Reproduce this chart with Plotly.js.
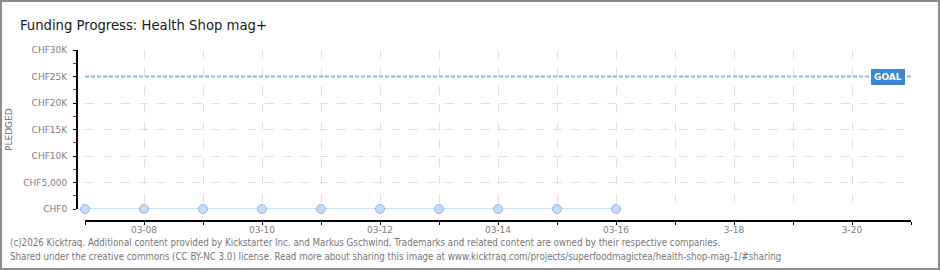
<!DOCTYPE html>
<html>
<head>
<meta charset="utf-8">
<script src="https://cdn.plot.ly/plotly-3.0.1.min.js"></script>
<style>
html,body{margin:0;padding:0;background:#fff;}
#wrap{position:relative;width:940px;height:270px;}
#chart{position:absolute;left:0;top:0;width:940px;height:270px;}
#frame{position:absolute;left:0;top:0;width:936px;height:266px;border:2px solid #8c8c8c;pointer-events:none;}
</style>
</head>
<body>
<div id="wrap"><div id="chart"></div><div id="frame"></div></div>
<script>
// ---- data ----
const dates = ["2026-03-07","2026-03-08","2026-03-09","2026-03-10","2026-03-11","2026-03-12","2026-03-13","2026-03-14","2026-03-15","2026-03-16"];
const pledged = [0,0,0,0,0,0,0,0,0,0];
const goalValue = 25000;
const goalDates = ["2026-03-07","2026-03-21"];
const tickDates = ["2026-03-07","2026-03-08","2026-03-09","2026-03-10","2026-03-11","2026-03-12","2026-03-13","2026-03-14","2026-03-15","2026-03-16","2026-03-17","2026-03-18","2026-03-19","2026-03-20","2026-03-21"];
const tickLabels = ["","03-08","","03-10","","03-12","","03-14","","03-16","","3-18","","3-20",""];
const yTickVals = [0,5000,10000,15000,20000,25000,30000];
const yTickLabels = ["CHF0","CHF5,000","CHF10K","CHF15K","CHF20K","CHF25K","CHF30K"];
const titleText = "Funding Progress: Health Shop mag+";
const footer1 = "(c)2026 Kicktraq. Additional content provided by Kickstarter Inc. and Markus Gschwind. Trademarks and related content are owned by their respective companies.";
const footer2 = "Shared under the creative commons (CC BY-NC 3.0) license. Read more about sharing this image at www.kicktraq.com/projects/superfoodmagictea/health-shop-mag-1/#sharing";

const W = 940, H = 270;
const mL = 76, mR = 29, mT = 50, mB = 50;
const pw = W - mL - mR, ph = H - mT - mB;
const xDomStart = 9 / pw;
const yDomStart = 11 / ph;
const tickFont = {family: "DejaVu Sans, sans-serif", size: 9, color: "#808080"};
const narrow = "Liberation Sans Narrow, DejaVu Sans Condensed, Liberation Sans, Arial, sans-serif";

const traces = [
  {
    x: goalDates, y: [goalValue, goalValue], mode: "lines", type: "scatter",
    line: {color: "#94b5de", width: 2, dash: "4px,2px"}, hoverinfo: "skip", showlegend: false
  },
  {
    x: dates, y: pledged, mode: "lines+markers", type: "scatter",
    line: {color: "#b9d7f3", width: 1.5},
    marker: {size: 9, color: "#c4dcf6", line: {color: "#98b6dc", width: 1}},
    showlegend: false, cliponaxis: false
  }
];

const xr = ["2026-03-07", "2026-03-21"];
const layout = {
  width: W, height: H,
  margin: {l: mL, r: mR, t: mT, b: mB, pad: 0},
  paper_bgcolor: "#fff", plot_bgcolor: "#fff",
  showlegend: false,
  title: {text: titleText, x: 20 / W, xanchor: "left", y: 1 - 25 / H, yanchor: "middle",
          font: {family: narrow, size: 14.7, color: "#1a1a1a"}},
  xaxis: {
    type: "date", range: xr, domain: [xDomStart, 1],
    anchor: "free", position: 0,
    tickmode: "array", tickvals: tickDates, ticktext: tickLabels,
    ticks: "outside", ticklen: 3, tickcolor: "#000", tickwidth: 1,
    showline: true, linecolor: "#000", linewidth: 1.5,
    showgrid: true, gridcolor: "#e0e0e0", griddash: "dash", gridwidth: 1,
    zeroline: false, tickfont: tickFont, ticklabelstandoff: -2, fixedrange: true
  },
  xaxis2: {
    type: "date", range: xr, domain: [xDomStart, 1], overlaying: "x",
    anchor: "free", position: 0,
    tickmode: "array", tickvals: tickDates, ticktext: tickDates.map(() => ""),
    ticks: "inside", ticklen: 3, tickcolor: "#000", tickwidth: 1,
    showline: false, showgrid: false, zeroline: false, showticklabels: false
  },
  yaxis: {
    range: [0, 30000], domain: [yDomStart, 1],
    anchor: "free", position: 0,
    tickmode: "array", tickvals: yTickVals, ticktext: yTickLabels,
    ticks: "outside", ticklen: 3, tickcolor: "#000", tickwidth: 1,
    minor: {tickmode: "array", tickvals: [2500, 7500, 12500, 17500, 22500, 27500], ticks: "outside", ticklen: 3, tickcolor: "#e02020", tickwidth: 1, showgrid: false},
    showline: true, linecolor: "#000", linewidth: 1.5,
    showgrid: true, gridcolor: "#e0e0e0", griddash: "dash", gridwidth: 1,
    zeroline: false, tickfont: tickFont, ticklabelstandoff: 4, fixedrange: true
  },
  yaxis2: {
    range: [0, 30000], domain: [yDomStart, 1], overlaying: "y",
    anchor: "free", position: 0,
    tickmode: "array", tickvals: yTickVals, ticktext: yTickVals.map(() => ""),
    ticks: "inside", ticklen: 2, tickcolor: "#000", tickwidth: 1,
    showline: false, showgrid: false, zeroline: false, showticklabels: false
  },
  annotations: [
    {text: "<b>GOAL</b>", xref: "paper", x: 1, xanchor: "right", xshift: -6,
     yref: "y", y: goalValue, yanchor: "middle", showarrow: false,
     font: {family: "DejaVu Sans, sans-serif", size: 9, color: "#fff"},
     bgcolor: "#3b86d6", bordercolor: "#3b86d6", borderwidth: 1, borderpad: 2},
    {text: "PLEDGED", xref: "paper", x: 0, xanchor: "center", xshift: 9 - mL,
     yref: "paper", y: (H - mB - 130) / ph, yanchor: "middle", textangle: -90, showarrow: false,
     font: {family: "DejaVu Sans, sans-serif", size: 9, color: "#6a6a6a"}},
    {text: footer1, xref: "paper", x: 0, xanchor: "left", xshift: 8 - mL,
     yref: "paper", y: 0, yanchor: "middle", yshift: -(242 - (H - mB)), showarrow: false,
     font: {family: narrow, size: 9.7, color: "#777"}},
    {text: footer2, xref: "paper", x: 0, xanchor: "left", xshift: 8 - mL,
     yref: "paper", y: 0, yanchor: "middle", yshift: -(256 - (H - mB)), showarrow: false,
     font: {family: narrow, size: 9.7, color: "#777"}}
  ]
};

Plotly.newPlot("chart", traces, layout, {displayModeBar: false, staticPlot: true});
</script>
</body>
</html>
